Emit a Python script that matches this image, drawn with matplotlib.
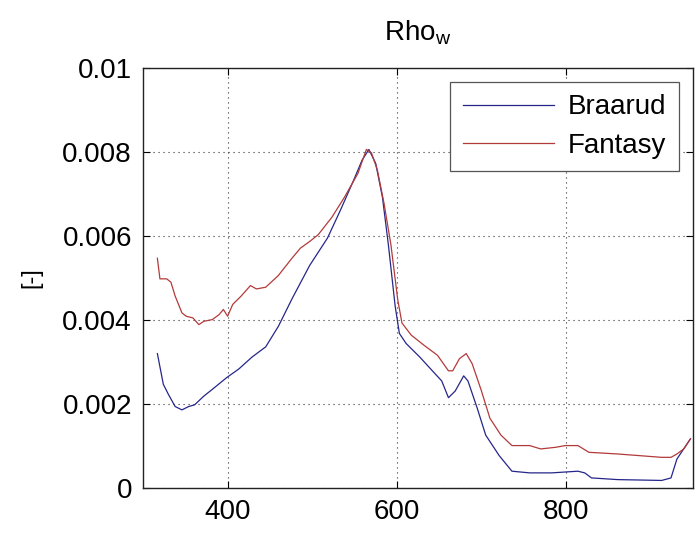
import matplotlib
matplotlib.use("Agg")
import matplotlib.pyplot as plt

# Wavelength (nm) and Rho_w values
braarud_x = [317, 324, 330, 338, 346, 354, 361, 372, 382, 399, 413, 429, 445, 460, 476,
             497, 518, 533, 549, 559, 567, 575, 583, 590, 598, 603, 611, 627, 642, 653,
             661, 669, 679, 684, 695, 705, 721, 736, 757, 783, 814, 822, 830, 861, 913,
             924, 931, 939, 947]
braarud_y = [0.0032, 0.00247, 0.00223, 0.00194, 0.00186, 0.00194, 0.00198, 0.00219, 0.00235,
             0.00263, 0.00283, 0.00312, 0.00336, 0.00385, 0.0045, 0.0053, 0.00595, 0.0066,
             0.00733, 0.00781, 0.00806, 0.00773, 0.00692, 0.00579, 0.00433, 0.00368, 0.00344,
             0.00312, 0.00279, 0.00255, 0.00215, 0.00231, 0.00267, 0.00255, 0.0019, 0.00126,
             0.00077, 0.0004, 0.00036, 0.00036, 0.0004, 0.00036, 0.00024, 0.0002, 0.00018,
             0.00024, 0.00069, 0.00093, 0.00117]

fantasy_x = [317, 320, 328, 333, 338, 346, 351, 359, 366, 372, 382, 390, 395, 400, 406,
             416, 427, 434, 445, 460, 476, 486, 497, 507, 523, 538, 554, 564, 570, 577,
             585, 593, 601, 606, 617, 632, 648, 661, 666, 674, 682, 689, 700, 710, 723,
             736, 757, 770, 788, 799, 814, 827, 861, 887, 913, 924, 931, 939, 947]
fantasy_y = [0.00547, 0.00498, 0.00498, 0.0049, 0.00457, 0.00417, 0.00409, 0.00405, 0.00389,
             0.00397, 0.00401, 0.00413, 0.00425, 0.00409, 0.00437, 0.00457, 0.00482, 0.00474,
             0.00478, 0.00506, 0.00547, 0.00571, 0.00587, 0.00603, 0.00644, 0.00692, 0.00749,
             0.00806, 0.00798, 0.00757, 0.00676, 0.00579, 0.00449, 0.00393, 0.00364, 0.0034,
             0.00316, 0.00279, 0.00279, 0.00308, 0.0032, 0.00296, 0.00231, 0.00166, 0.00126,
             0.00101, 0.00101, 0.00093, 0.00097, 0.00101, 0.00101, 0.00085, 0.00081, 0.00077,
             0.00073, 0.00073, 0.00081, 0.00093, 0.00117]

x_ticks = [400, 600, 800]
y_ticks = [0, 0.002, 0.004, 0.006, 0.008, 0.01]
y_tick_labels = ["0", "0.002", "0.004", "0.006", "0.008", "0.01"]

plt.rcParams['font.family'] = ['Liberation Sans', 'DejaVu Sans']
plt.rcParams['mathtext.default'] = 'regular'

fig = plt.figure(figsize=(6.96, 5.33), dpi=100)
ax = fig.add_axes([143/696, 1 - 488/533, (693 - 143)/696, (488 - 68)/533])

ax.plot(braarud_x, braarud_y, color='#26268a', lw=0.9, label='Braarud')
ax.plot(fantasy_x, fantasy_y, color='#b33a3a', lw=0.9, label='Fantasy')

ax.set_xlim(300, 950)
ax.set_ylim(0, 0.01)
ax.set_xticks(x_ticks)
ax.set_xticklabels([str(t) for t in x_ticks])
ax.set_yticks(y_ticks)
ax.set_yticklabels(y_tick_labels)

ax.grid(True, linestyle=(0, (1, 3.5)), color='#333333', lw=0.8)
ax.set_axisbelow(True)
ax.tick_params(direction='in', length=5, width=0.8, labelsize=20, top=True, right=True, pad=8)
for s in ax.spines.values():
    s.set_linewidth(1.0)
    s.set_color('#222222')

ax.set_ylabel('[-]', fontsize=17, labelpad=14)
ax.set_title('Rho$_{w}$', fontsize=20, pad=20)

leg = ax.legend(loc='upper right', fontsize=20, handlelength=3.3, handletextpad=0.5,
                borderpad=0.45, labelspacing=0.45, fancybox=False, framealpha=1,
                edgecolor='#555555', borderaxespad=0.5)
leg.get_frame().set_linewidth(0.9)

fig.savefig('out.png', dpi=100)
